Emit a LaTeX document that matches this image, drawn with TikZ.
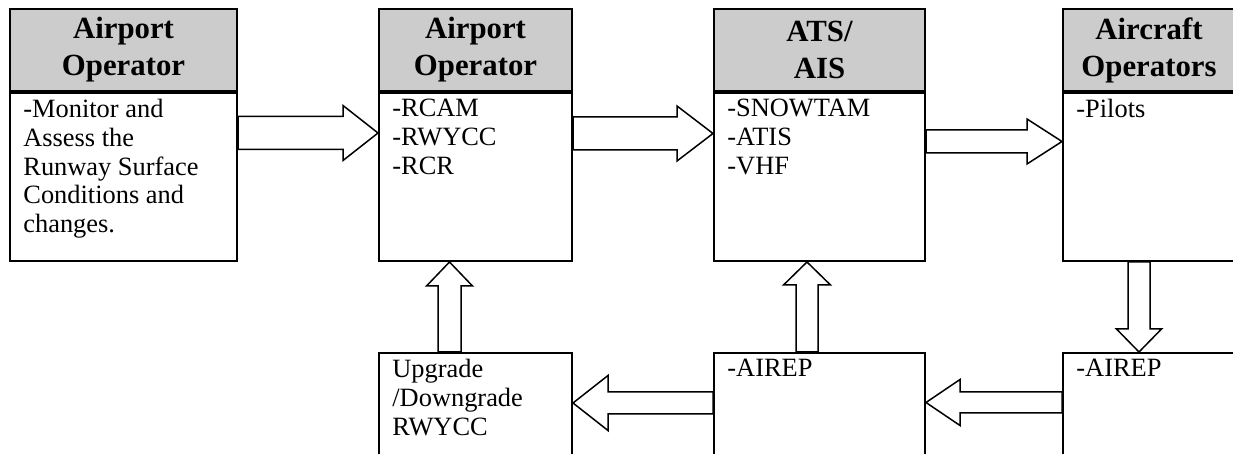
\documentclass[tikz,border=0pt]{standalone}
\usepackage{fontspec}
\setmainfont{Liberation Serif}
\usetikzlibrary{positioning,calc}
\definecolor{headgray}{RGB}{204,204,204}

\newcommand{\blockarrow}[5]{%
  \coordinate (ba) at (#1);
  \coordinate (bb) at (#2);
  \coordinate (bh) at ($(bb)!#5!(ba)$);
  \draw[blk] ($(ba)!#3!90:(bb)$) -- ($(bh)!#3!90:(bb)$) -- ($(bh)!#4!90:(bb)$) -- (bb)
    -- ($(bh)!#4!-90:(bb)$) -- ($(bh)!#3!-90:(bb)$) -- ($(ba)!#3!-90:(bb)$) -- cycle;
}

\begin{document}
\begin{tikzpicture}[
  x=0.5pt,y=-0.5pt,
  node distance=0pt,
  head/.style={draw,line width=1pt,fill=headgray,align=center,inner sep=0pt,
    minimum height=41pt,font=\bfseries\fontsize{15.4}{18.5}\selectfont},
  body/.style={draw,line width=1pt,fill=white,minimum height=84pt},
  low/.style={draw,line width=1pt,fill=white,anchor=north west,minimum height=100pt},
  txt/.style={anchor=north west,align=left,inner xsep=7pt,inner ysep=3.4pt,
    font=\fontsize{13.2}{14.4}\selectfont},
  blk/.style={draw,line width=0.75pt,fill=white}
]
\useasboundingbox (0,0) rectangle (1233,454);
\clip (0,0) rectangle (1233,454);

\node[head,anchor=north west,minimum width=113.5pt] (h1) at (9,8) {Airport\\Operator};
\node[body,below=of h1,minimum width=113.5pt] (b1) {};
\node[head,anchor=north west,minimum width=96.5pt] (h2) at (378,8) {Airport\\Operator};
\node[body,below=of h2,minimum width=96.5pt] (b2) {};
\node[head,anchor=north west,minimum width=105.5pt] (h3) at (713,8) {ATS/\\AIS};
\node[body,below=of h3,minimum width=105.5pt] (b3) {};
\node[head,anchor=north west,minimum width=86pt] (h4) at (1062,8) {Aircraft\\Operators};
\node[body,below=of h4,minimum width=86pt] (b4) {};

\node[low,minimum width=96.5pt] (b5) at (378,352) {};
\node[low,minimum width=105.5pt] (b6) at (713,352) {};
\node[low,minimum width=86pt] (b7) at (1062,352) {};

\node[txt] (t1) at (b1.north west) {-Monitor and\\Assess the\\Runway Surface\\Conditions and\\changes.};
\node[txt] (t2) at (b2.north west) {-RCAM\\-RWYCC\\-RCR};
\node[txt] (t3) at (b3.north west) {-SNOWTAM\\-ATIS\\-VHF};
\node[txt] (t4) at (b4.north west) {-Pilots};
\node[txt] (t5) at (b5.north west) {Upgrade\\/Downgrade\\RWYCC};
\node[txt] (t6) at (b6.north west) {-AIREP};
\node[txt] (t7) at (b7.north west) {-AIREP};

\blockarrow{b1.east |- 0,133}{b2.west |- 0,133}{8.25pt}{13.75pt}{17.5pt}
\blockarrow{b2.east |- 0,133.5}{b3.west |- 0,133.5}{8.25pt}{13.75pt}{18pt}
\blockarrow{b3.east |- 0,141.5}{b4.west |- 0,141.5}{5.75pt}{11.25pt}{17.5pt}
\blockarrow{1139,0 |- b4.south}{1139,0 |- b7.north}{5.5pt}{11.25pt}{11.5pt}
\blockarrow{b7.west |- 0,402.5}{b6.east |- 0,402.5}{5.25pt}{11.5pt}{17pt}
\blockarrow{807,0 |- b6.north}{807,0 |- b3.south}{5.5pt}{11.75pt}{11.5pt}
\blockarrow{b6.west |- 0,403}{b5.east |- 0,403}{5.5pt}{13.75pt}{17.5pt}
\blockarrow{449.5,0 |- b5.north}{449.5,0 |- b2.south}{5.75pt}{11.5pt}{12pt}
\end{tikzpicture}
\end{document}
